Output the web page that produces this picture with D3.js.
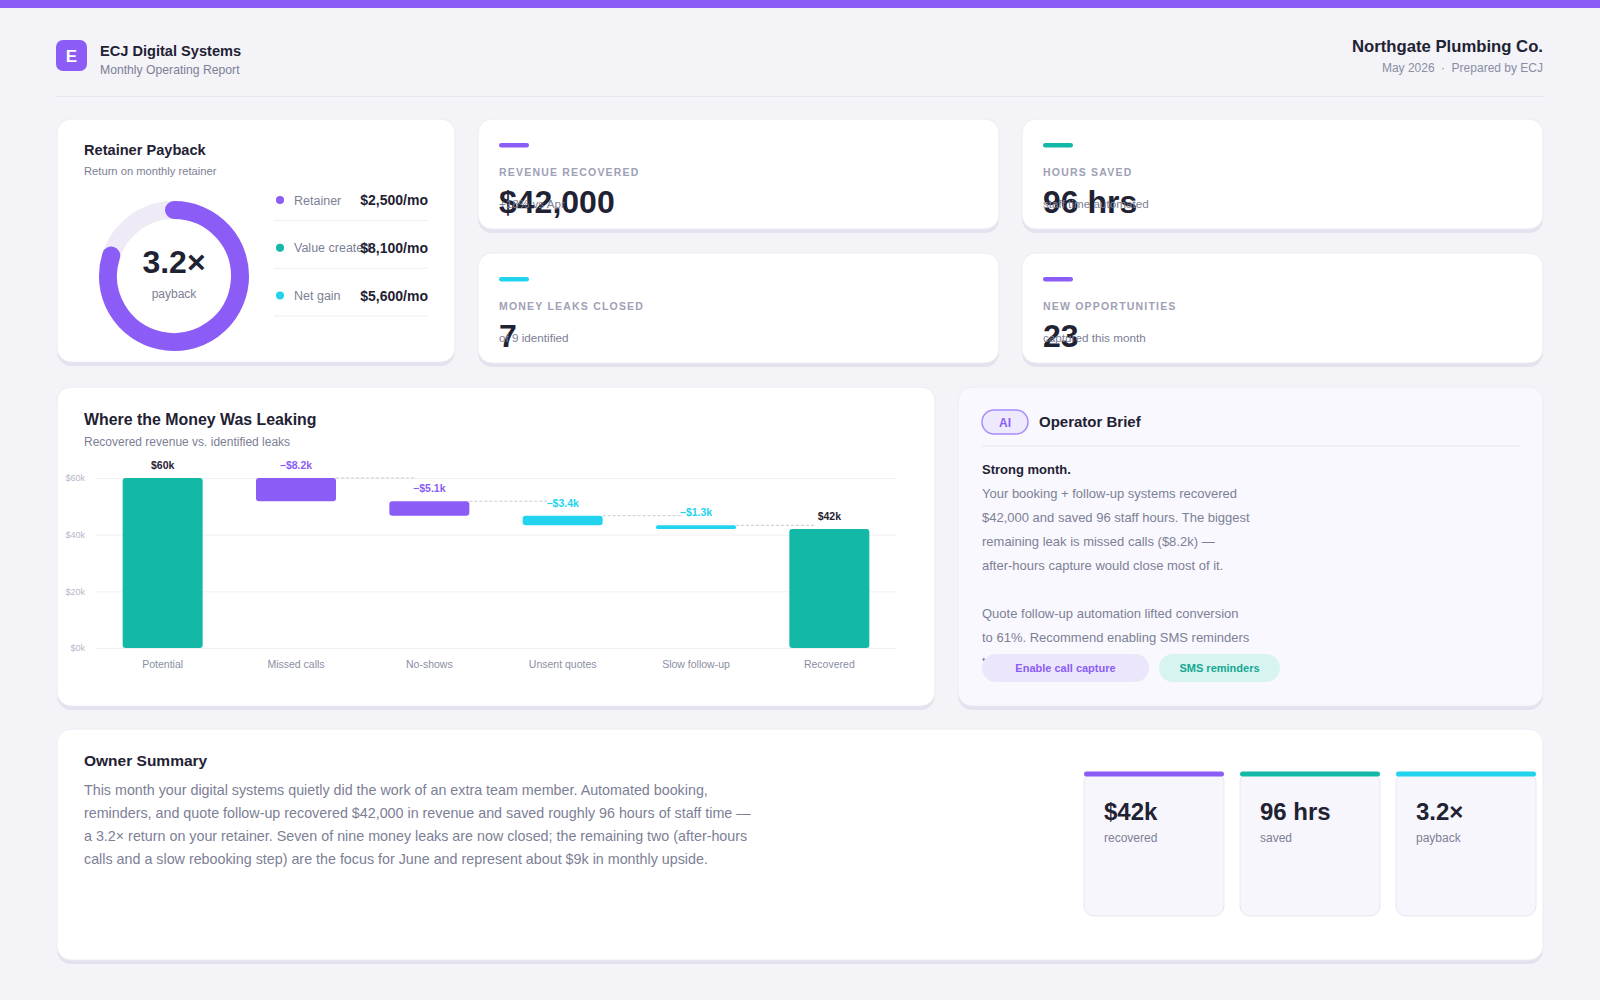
<!DOCTYPE html>
<html>
<head>
<meta charset="utf-8">
<script src="https://cdn.jsdelivr.net/npm/d3@7"></script>
<style>
  body { margin: 0; background: #f3f3f8; }
  svg { display: block; font-family: "Liberation Sans", Arial, Helvetica, sans-serif; }
</style>
</head>
<body>
<div id="report"></div>
<script>
// ---- data ----
var kpiLabels = ['REVENUE RECOVERED', 'HOURS SAVED', 'MONEY LEAKS CLOSED', 'NEW OPPORTUNITIES'];
var kpiValues = ['$42,000', '96 hrs', '7', '23'];
var kpiNotes  = ['+18% vs Apr', 'staff time automated', 'of 9 identified', 'captured this month'];
var kpiColors = ['#8b5cf6', '#14b8a6', '#22d3ee', '#8b5cf6'];

var payback = 3.2, paybackMax = 4;
var legendLabels = ['Retainer', 'Value created', 'Net gain'];
var legendValues = [2500, 8100, 5600];
var legendColors = ['#8b5cf6', '#14b8a6', '#22d3ee'];

var leakCategories = ['Potential', 'Missed calls', 'No-shows', 'Unsent quotes', 'Slow follow-up', 'Recovered'];
var leakValues = [60, -8.2, -5.1, -3.4, -1.3, 42];   // $k, first and last are totals
var leakColors = ['#14b8a6', '#8b5cf6', '#8b5cf6', '#22d3ee', '#22d3ee', '#14b8a6'];
var yTicks = [0, 20, 40, 60];

var briefLines = [
  'Your booking + follow-up systems recovered',
  '$42,000 and saved 96 staff hours. The biggest',
  'remaining leak is missed calls ($8.2k) \u2014',
  'after-hours capture would close most of it.',
  '',
  'Quote follow-up automation lifted conversion',
  'to 61%. Recommend enabling SMS reminders',
  'to cut no-shows further.'
];
var briefActions = ['Enable call capture', 'SMS reminders'];

var summaryLines = [
  'This month your digital systems quietly did the work of an extra team member. Automated booking,',
  'reminders, and quote follow-up recovered $42,000 in revenue and saved roughly 96 hours of staff time \u2014',
  'a 3.2\u00d7 return on your retainer. Seven of nine money leaks are now closed; the remaining two (after-hours',
  'calls and a slow rebooking step) are the focus for June and represent about $9k in monthly upside.'
];
var statValues = ['$42k', '96 hrs', '3.2\u00d7'];
var statLabels = ['recovered', 'saved', 'payback'];
var statColors = ['#8b5cf6', '#14b8a6', '#22d3ee'];

var dark = '#1f2233', grey = '#7c8095', light = '#9ea1b5';
var width = 1600, height = 1000;

var svg = d3.select('#report').append('svg')
  .attr('width', width)
  .attr('height', height);

svg.append('rect').attr('width', width).attr('height', height).attr('fill', '#f3f3f8');
svg.append('rect').attr('width', width).attr('height', 8).attr('fill', '#8b5cf6');

function card(x, y, w, h, fill) {
  svg.append('rect').attr('x', x).attr('y', y + 4).attr('width', w).attr('height', h)
    .attr('rx', 14).attr('fill', '#e4e2ee');
  svg.append('rect').attr('x', x).attr('y', y).attr('width', w).attr('height', h)
    .attr('rx', 14).attr('fill', fill || '#fff').attr('stroke', '#ececf3');
}

function label(x, y, txt, size, color, weight, anchor) {
  return svg.append('text').attr('x', x).attr('y', y).text(txt)
    .attr('font-size', size).attr('fill', color)
    .attr('font-weight', weight || 'normal')
    .attr('text-anchor', anchor || 'start');
}

// ---- header ----
svg.append('rect').attr('x', 56).attr('y', 40).attr('width', 31).attr('height', 31)
  .attr('rx', 7).attr('fill', '#8b5cf6');
label(71.5, 61.5, 'E', 17, '#fff', 'bold', 'middle');
label(100, 56, 'ECJ Digital Systems', 14.6, dark, 'bold');
label(100, 74, 'Monthly Operating Report', 12.2, grey);
label(1543, 52, 'Northgate Plumbing Co.', 16.7, dark, 'bold', 'end');
var meta = label(1543, 72, 'May 2026', 12, '#8a8ea3', 'normal', 'end');
meta.append('tspan').attr('dx', 6.5).text('\u00b7');
meta.append('tspan').attr('dx', 6.5).text('Prepared by ECJ');
svg.append('line').attr('x1', 56).attr('x2', 1544).attr('y1', 96.5).attr('y2', 96.5)
  .attr('stroke', '#e7e7ef');

// ---- retainer payback ----
card(57, 119, 398, 243);
label(84, 155, 'Retainer Payback', 14.6, dark, 'bold');
label(84, 175, 'Return on monthly retainer', 11.2, grey);

var cx = 174, cy = 276, r = 66;
svg.append('circle').attr('cx', cx).attr('cy', cy).attr('r', r)
  .attr('fill', 'none').attr('stroke', '#eeeaf6').attr('stroke-width', 18);
var ring = d3.path();
ring.arc(cx, cy, r, -Math.PI / 2, -Math.PI / 2 + 2 * Math.PI * (payback / paybackMax));
svg.append('path').attr('d', ring.toString())
  .attr('fill', 'none').attr('stroke', '#8b5cf6').attr('stroke-width', 18)
  .attr('stroke-linecap', 'round');
label(cx, 273, payback + '\u00d7', 32, dark, 'bold', 'middle');
label(cx, 298, 'payback', 12, grey, 'normal', 'middle');

var legend = svg.append('g').selectAll('g')
  .data(legendLabels)
  .enter().append('g')
  .attr('transform', function(d, i) { return 'translate(0,' + (200 + i * 47.8) + ')'; });
legend.append('circle').attr('cx', 280).attr('cy', 0).attr('r', 4)
  .attr('fill', function(d, i) { return legendColors[i]; });
legend.append('text').attr('x', 294).attr('y', 4.5).text(function(d) { return d; })
  .attr('font-size', 12.5).attr('fill', grey);
legend.append('text').attr('x', 428).attr('y', 5).attr('text-anchor', 'end')
  .text(function(d, i) { return '$' + d3.format(',')(legendValues[i]) + '/mo'; })
  .attr('font-size', 14).attr('font-weight', 'bold').attr('fill', dark);
legend.append('line').attr('x1', 274).attr('x2', 428).attr('y1', 20.5).attr('y2', 20.5)
  .attr('stroke', '#eeeef5');

// ---- KPI cards ----
var kpiPos = [[478, 119], [1022, 119], [478, 253], [1022, 253]];
kpiLabels.forEach(function(d, i) {
  var x = kpiPos[i][0], y = kpiPos[i][1];
  card(x, y, 521, 110);
  svg.append('rect').attr('x', x + 21).attr('y', y + 24).attr('width', 30).attr('height', 4.5)
    .attr('rx', 2.25).attr('fill', kpiColors[i]);
  label(x + 21, y + 56.5, d, 10.5, light, 'bold').attr('letter-spacing', 1.2);
  label(x + 21, y + 94, kpiValues[i], 32, dark, 'bold');
  label(x + 21, y + 89, kpiNotes[i], 11.7, grey);
});

// ---- waterfall ----
card(57, 387, 878, 319);
label(84, 425, 'Where the Money Was Leaking', 15.9, dark, 'bold');
label(84, 445.5, 'Recovered revenue vs. identified leaks', 12, grey);

var running = 0;
var steps = leakCategories.map(function(c, i) {
  var v = leakValues[i];
  var total = (i === 0 || i === leakCategories.length - 1);
  var start = total ? 0 : running;
  var end = total ? v : running + v;
  running = end;
  return { name: c, value: v, start: start, end: end, total: total, color: leakColors[i] };
});

var x = d3.scaleBand().domain(leakCategories).range([96, 896])
  .paddingInner(0.4).paddingOuter(0.2);
var y = d3.scaleLinear().domain([0, 60]).range([648, 478]);

var yAxis = svg.append('g').attr('transform', 'translate(96,0)')
  .call(d3.axisLeft(y).tickValues(yTicks).tickSize(-800).tickPadding(11)
    .tickFormat(function(d) { return '$' + d + 'k'; }));
yAxis.select('.domain').remove();
yAxis.selectAll('line').attr('stroke', '#f0f0f5');
yAxis.selectAll('text').attr('fill', '#b5b8c9').attr('font-size', 9)
  .attr('font-family', '"Liberation Sans", Arial, sans-serif');

var xAxis = svg.append('g').attr('transform', 'translate(0,648)')
  .call(d3.axisBottom(x).tickSize(0).tickPadding(12.5));
xAxis.select('.domain').remove();
xAxis.selectAll('text').attr('fill', '#8a8ea3').attr('font-size', 10.5)
  .attr('font-family', '"Liberation Sans", Arial, sans-serif');

var bw = x.bandwidth();
svg.append('g').selectAll('line')
  .data(steps.filter(function(d) { return !d.total; }))
  .enter().append('line')
  .attr('x1', function(d) { return x(d.name) + bw; })
  .attr('x2', function(d) { return x(d.name) + 2 * bw; })
  .attr('y1', function(d) { return y(d.start); })
  .attr('y2', function(d) { return y(d.start); })
  .attr('stroke', '#c9c9d6').attr('stroke-dasharray', '3,2');

svg.append('g').selectAll('rect')
  .data(steps)
  .enter().append('rect')
  .attr('x', function(d) { return x(d.name); })
  .attr('y', function(d) { return y(Math.max(d.start, d.end)); })
  .attr('width', bw)
  .attr('height', function(d) { return Math.abs(y(d.start) - y(d.end)); })
  .attr('rx', function(d) { return Math.min(3, Math.abs(y(d.start) - y(d.end)) / 2); })
  .attr('fill', function(d) { return d.color; });

svg.append('g').selectAll('text')
  .data(steps)
  .enter().append('text')
  .attr('x', function(d) { return x(d.name) + bw / 2; })
  .attr('y', function(d) { return y(Math.max(d.start, d.end)) - 9; })
  .attr('text-anchor', 'middle')
  .attr('font-size', 10.5).attr('font-weight', 'bold')
  .attr('fill', function(d) { return d.total ? dark : d.color; })
  .text(function(d) { return d.total ? '$' + d.value + 'k' : '\u2212$' + Math.abs(d.value) + 'k'; });

// ---- operator brief ----
card(958, 387, 585, 319, '#f9f8fe');
svg.append('rect').attr('x', 982).attr('y', 410).attr('width', 46).attr('height', 24)
  .attr('rx', 12).attr('fill', '#efe9fe').attr('stroke', '#a78bfa').attr('stroke-width', 1.5);
label(1005, 426.5, 'AI', 12, '#8b5cf6', 'bold', 'middle');
label(1039, 427, 'Operator Brief', 15, dark, 'bold');
svg.append('line').attr('x1', 982).attr('x2', 1520).attr('y1', 446).attr('y2', 446)
  .attr('stroke', '#e8e6f0');
label(982, 473.5, 'Strong month.', 13, dark, 'bold');

svg.append('clipPath').attr('id', 'briefClip')
  .append('rect').attr('x', 970).attr('y', 480).attr('width', 560).attr('height', 181);
svg.append('g').attr('clip-path', 'url(#briefClip)')
  .selectAll('text').data(briefLines)
  .enter().append('text')
  .attr('x', 982).attr('y', function(d, i) { return 497.5 + i * 24; })
  .attr('font-size', 13).attr('fill', grey)
  .text(function(d) { return d; });

var btnX = [982, 1159], btnW = [167, 121];
var btnFill = ['#ece6fd', '#d8f4f0'], btnText = ['#8b5cf6', '#14a894'];
briefActions.forEach(function(d, i) {
  svg.append('rect').attr('x', btnX[i]).attr('y', 654).attr('width', btnW[i]).attr('height', 28)
    .attr('rx', 14).attr('fill', btnFill[i]);
  label(btnX[i] + btnW[i] / 2, 672, d, 11, btnText[i], 'bold', 'middle');
});

// ---- owner summary ----
card(57, 729, 1486, 231);
label(84, 766, 'Owner Summary', 15.5, dark, 'bold');
svg.append('g').selectAll('text').data(summaryLines)
  .enter().append('text')
  .attr('x', 84).attr('y', function(d, i) { return 794.5 + i * 23; })
  .attr('font-size', 14.3).attr('fill', grey)
  .text(function(d) { return d; });

var statX = [1084, 1240, 1396];
statValues.forEach(function(d, i) {
  var sx = statX[i];
  svg.append('rect').attr('x', sx).attr('y', 772).attr('width', 140).attr('height', 144)
    .attr('rx', 10).attr('fill', '#f7f6fc').attr('stroke', '#e9e7f2');
  svg.append('rect').attr('x', sx).attr('y', 771.5).attr('width', 140).attr('height', 5)
    .attr('rx', 2.5).attr('fill', statColors[i]);
  label(sx + 20, 820, d, 24, dark, 'bold');
  label(sx + 20, 842, statLabels[i], 12, grey);
});
</script>
</body>
</html>
